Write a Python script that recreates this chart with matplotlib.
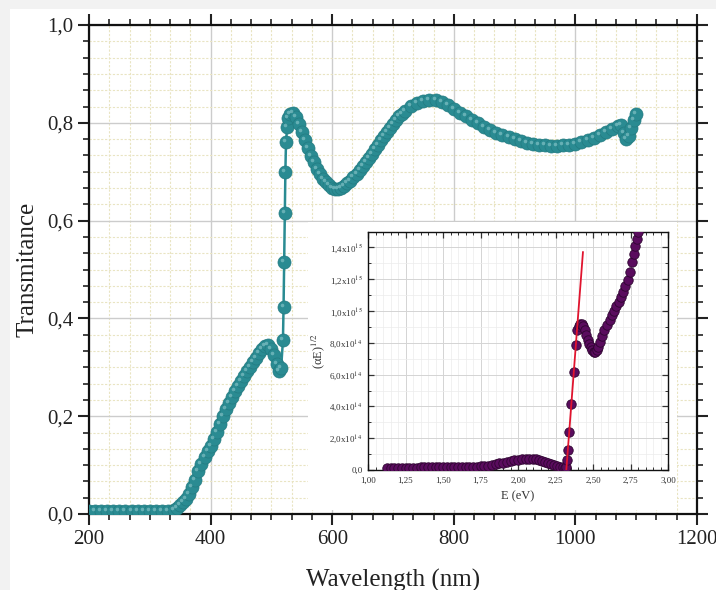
import numpy as np
import matplotlib
matplotlib.use('Agg')
import matplotlib.pyplot as plt
from matplotlib.ticker import AutoMinorLocator, FuncFormatter, FixedLocator, FixedFormatter
from matplotlib.patches import Rectangle
import matplotlib.transforms as mtransforms

# ---------------- data ----------------
wavelength_nm = [200, 210, 220, 230, 240, 250, 260, 270, 280, 290, 300, 310, 320, 330,
                 340, 345, 350, 355, 360, 365, 370, 375, 380, 385, 390, 395, 400, 405,
                 410, 415, 420, 425, 430, 435, 440, 445, 450, 455, 460, 465, 470, 475,
                 480, 485, 490, 495, 500, 505, 510, 513, 516, 519, 520, 521, 522, 523,
                 524, 526, 528, 531, 535, 540, 545, 550, 555, 560, 565, 570, 575, 580,
                 585, 590, 595, 600, 605, 610, 615, 620, 625, 630, 635, 640, 645, 650,
                 655, 660, 665, 670, 675, 680, 685, 690, 695, 700, 705, 710, 715, 720,
                 730, 740, 750, 760, 770, 780, 790, 800, 810, 820, 830, 840, 850, 860,
                 870, 880, 890, 900, 910, 920, 930, 940, 950, 960, 970, 980, 990, 1000,
                 1010, 1020, 1030, 1040, 1050, 1060, 1070, 1075, 1080, 1084, 1088, 1092,
                 1096, 1100]
transmittance = [0.006, 0.006, 0.006, 0.006, 0.006, 0.006, 0.006, 0.006, 0.006, 0.006,
                 0.006, 0.006, 0.006, 0.007, 0.009, 0.012, 0.018, 0.024, 0.030, 0.040,
                 0.055, 0.070, 0.088, 0.103, 0.116, 0.128, 0.140, 0.153, 0.168, 0.185,
                 0.200, 0.215, 0.228, 0.240, 0.251, 0.262, 0.272, 0.282, 0.292, 0.301,
                 0.311, 0.320, 0.329, 0.337, 0.343, 0.345, 0.338, 0.325, 0.307, 0.293,
                 0.298, 0.356, 0.424, 0.516, 0.615, 0.700, 0.761, 0.792, 0.810, 0.818,
                 0.820, 0.812, 0.798, 0.781, 0.764, 0.748, 0.733, 0.719, 0.706, 0.695,
                 0.686, 0.678, 0.672, 0.667, 0.665, 0.665, 0.667, 0.671, 0.676, 0.682,
                 0.689, 0.696, 0.703, 0.711, 0.719, 0.728, 0.737, 0.746, 0.755, 0.764,
                 0.773, 0.782, 0.790, 0.798, 0.806, 0.813, 0.819, 0.825, 0.834, 0.841,
                 0.845, 0.847, 0.846, 0.842, 0.836, 0.829, 0.821, 0.813, 0.806, 0.799,
                 0.792, 0.786, 0.780, 0.775, 0.770, 0.766, 0.762, 0.759, 0.757, 0.755,
                 0.754, 0.753, 0.753, 0.754, 0.755, 0.757, 0.760, 0.764, 0.769, 0.775,
                 0.781, 0.787, 0.793, 0.795, 0.780, 0.766, 0.772, 0.790, 0.806, 0.818]

energy_eV = [1.125, 1.15, 1.175, 1.20, 1.225, 1.25, 1.275, 1.30, 1.325, 1.35, 1.375,
             1.40, 1.425, 1.45, 1.475, 1.50, 1.525, 1.55, 1.575, 1.60, 1.625, 1.65,
             1.675, 1.70, 1.725, 1.75, 1.775, 1.80, 1.825, 1.85, 1.875, 1.90, 1.925,
             1.95, 1.975, 2.00, 2.025, 2.05, 2.075, 2.10, 2.12, 2.14, 2.16, 2.18, 2.20,
             2.22, 2.24, 2.26, 2.28, 2.30, 2.31, 2.32, 2.327, 2.332, 2.342, 2.356,
             2.372, 2.386, 2.393, 2.405, 2.415, 2.425, 2.435, 2.445, 2.455, 2.465,
             2.475, 2.485, 2.495, 2.505, 2.515, 2.525, 2.535, 2.545, 2.56, 2.575, 2.59,
             2.61, 2.625, 2.64, 2.655, 2.67, 2.685, 2.70, 2.715, 2.73, 2.745, 2.76,
             2.77, 2.78, 2.79, 2.80, 2.81, 2.82]
alphaE_half_1e14 = [0.10, 0.12, 0.13, 0.14, 0.14, 0.15, 0.15, 0.15, 0.15, 0.16, 0.16,
                    0.16, 0.16, 0.16, 0.17, 0.17, 0.17, 0.17, 0.18, 0.18, 0.18, 0.19,
                    0.20, 0.20, 0.22, 0.23, 0.25, 0.28, 0.32, 0.36, 0.41, 0.46, 0.52,
                    0.57, 0.62, 0.66, 0.69, 0.71, 0.72, 0.71, 0.69, 0.64, 0.58, 0.51, 0.44,
                    0.37, 0.30, 0.24, 0.19, 0.16, 0.15, 0.18, 0.63, 1.26, 2.41, 4.15,
                    6.18, 7.86, 8.80, 9.05, 9.20, 9.20, 9.05, 8.80, 8.50, 8.20,
                    7.95, 7.75, 7.55, 7.45, 7.45, 7.55, 7.75, 8.05, 8.45, 8.80, 9.10,
                    9.45, 9.75, 10.0, 10.3, 10.55, 10.85, 11.2, 11.55, 11.95, 12.45, 13.1,
                    13.6, 14.1, 14.55, 15.0, 15.4, 15.8]
fit_energy_eV = [2.322, 2.433]
fit_alphaE_half_1e14 = [0.0, 13.7]

main_xticks = [200, 400, 600, 800, 1000, 1200]
main_yticks = [0.0, 0.2, 0.4, 0.6, 0.8, 1.0]
inset_xticks = [1.00, 1.25, 1.50, 1.75, 2.00, 2.25, 2.50, 2.75, 3.00]
inset_yticks_1e14 = [0, 2, 4, 6, 8, 10, 12, 14]
inset_ytick_labels = ['0,0', '2,0x10$^{14}$', '4,0x10$^{14}$', '6,0x10$^{14}$',
                      '8,0x10$^{14}$', '1,0x10$^{15}$', '1,2x10$^{15}$', '1,4x10$^{15}$']

# ---------------- style ----------------
plt.rcParams['font.family'] = ['Liberation Serif', 'DejaVu Serif']
plt.rcParams['mathtext.fontset'] = 'stix'

W, H = 716, 590
fig = plt.figure(figsize=(W / 100, H / 100), dpi=100)
fig.patch.set_facecolor('#f2f2f2')
fig.add_artist(Rectangle((10 / W, 0), 1, (H - 9) / H, transform=fig.transFigure,
                         facecolor='white', edgecolor='none', zorder=-5))

teal = '#2a8b92'
teal_edge = '#237b81'

ax = fig.add_axes([89 / W, (H - 514) / H, (697 - 89) / W, (514 - 25) / H])
ax.set_xlim(200, 1200)
ax.set_ylim(0, 1.0)
ax.xaxis.set_major_locator(FixedLocator(main_xticks))
ax.yaxis.set_major_locator(FixedLocator(main_yticks))
ax.xaxis.set_minor_locator(AutoMinorLocator(6))
ax.yaxis.set_minor_locator(AutoMinorLocator(6))
ax.yaxis.set_major_formatter(FuncFormatter(lambda v, p: f'{v:.1f}'.replace('.', ',')))
ax.grid(which='major', color='#cccccc', lw=1.0, zorder=0)
ax.grid(which='minor', color='#e9e4c2', lw=0.8, ls=(0, (2, 1.5)), zorder=0)
ax.set_axisbelow(True)

ax.plot(wavelength_nm, transmittance, '-', color=teal, lw=1.8, marker='o', ms=9.4,
        mfc=teal, mec=teal_edge, mew=0.5, zorder=3)
hl = mtransforms.offset_copy(ax.transData, fig=fig, x=-2.0, y=2.0, units='dots')
ax.plot(wavelength_nm, transmittance, 'o', ms=2.6, color='#a3d6d9', alpha=0.5,
        mec='none', transform=hl, zorder=3.1)

for s in ax.spines.values():
    s.set_linewidth(1.6)
    s.set_color('#111111')
ax.tick_params(which='both', top=True, right=True, labelsize=15, colors='#222222')
ax.tick_params(which='major', length=8, width=1.5)
ax.tick_params(which='minor', length=4, width=1.2)
ax.tick_params(axis='both', which='both', direction='out')
ax.set_xlabel('Wavelength (nm)', fontsize=18, labelpad=14, color='#222222')
ax.set_ylabel('Transmitance', fontsize=18, labelpad=6, color='#222222')

# white box behind the inset
ax.add_patch(Rectangle((308 / W, (H - 510) / H), 369 / W, 288 / H, transform=fig.transFigure,
                       facecolor='white', edgecolor='none', zorder=2.5, clip_on=False))

# ---------------- inset ----------------
purple = '#5a0c5e'
ins = fig.add_axes([368 / W, (H - 470) / H, 300 / W, (470 - 231.5) / H])
ins.set_xlim(1.0, 3.0)
ins.set_ylim(0, 1.5e15)
ins.xaxis.set_major_locator(FixedLocator(inset_xticks))
ins.xaxis.set_major_formatter(FuncFormatter(lambda v, p: f'{v:.2f}'.replace('.', ',')))
ins.xaxis.set_minor_locator(AutoMinorLocator(5))
ins.yaxis.set_major_locator(FixedLocator([v * 1e14 for v in inset_yticks_1e14]))
ins.yaxis.set_major_formatter(FixedFormatter(inset_ytick_labels))
ins.yaxis.set_minor_locator(AutoMinorLocator(2))
ins.grid(which='major', color='#d4d4d4', lw=0.7)
ins.grid(which='minor', color='#ececec', lw=0.5)
ins.set_axisbelow(True)

ins.plot(energy_eV, [v * 1e14 for v in alphaE_half_1e14], 'o', ms=6.8, mfc=purple,
         mec='#2e0530', mew=0.6, zorder=3)
ins.plot(fit_energy_eV, [v * 1e14 for v in fit_alphaE_half_1e14], '-', color='#e0142e',
         lw=1.3, zorder=4)

for s in ins.spines.values():
    s.set_linewidth(1.0)
    s.set_color('#111111')
ins.tick_params(which='both', top=True, right=True, labelsize=6.5, colors='#333333',
                direction='in', pad=5)
ins.tick_params(which='major', length=4, width=0.9)
ins.tick_params(which='minor', length=2, width=0.7)
ins.tick_params(axis='y', pad=4)
ins.set_xlabel('E (eV)', fontsize=9, labelpad=4, color='#333333')
ins.set_ylabel('(αE)$^{1/2}$', fontsize=9, labelpad=2, color='#333333')

fig.savefig('out.png', dpi=100, facecolor=fig.get_facecolor())
